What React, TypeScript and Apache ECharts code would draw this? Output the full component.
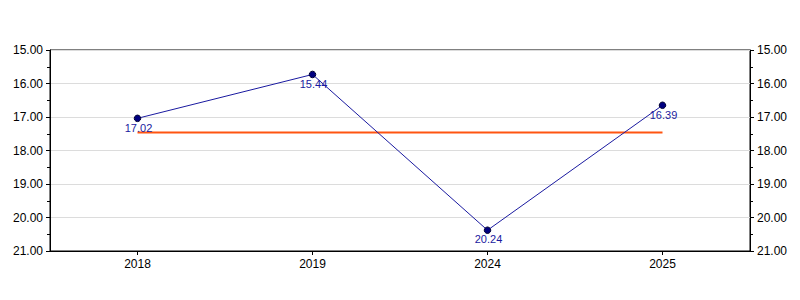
import React, { useEffect, useRef } from "react";
import * as echarts from "echarts";

const categories = ["2018", "2019", "2024", "2025"];
const values = [17.04, 15.73, 20.38, 16.65];
const pointLabels = ["17.02", "15.44", "20.24", "16.39"];
const meanValue = 17.46;
const meanLine = categories.map(() => meanValue);
const yTicks = { min: 15, max: 21, interval: 1 };

export default function App() {
  const ref = useRef<HTMLDivElement>(null);
  useEffect(() => {
    if (!ref.current) return;
    const chart = echarts.init(ref.current, null, { renderer: "svg" });
    const font = "'Liberation Sans', Arial, sans-serif";
    const yAxisBase = (position: "left" | "right") => ({
      type: "value" as const,
      position,
      inverse: true,
      min: yTicks.min,
      max: yTicks.max,
      interval: yTicks.interval,
      axisLine: { show: true, lineStyle: { color: "#000", width: 1 } },
      axisTick: { show: true, inside: false, length: 4, lineStyle: { color: "#000" } },
      minorTick: { show: true, splitNumber: 2, length: 3, lineStyle: { color: "#000" } },
      axisLabel: {
        show: true,
        color: "#000",
        fontFamily: font,
        fontSize: 12,
        margin: 7,
        formatter: (v: number) => v.toFixed(2),
      },
      splitLine: { show: position === "left", lineStyle: { color: "#dcdcdc", width: 1 } },
    });
    chart.setOption({
      animation: false,
      backgroundColor: "#fff",
      grid: {
        left: 50,
        right: 50,
        top: 50,
        bottom: 49,
        show: true,
        borderColor: "#000",
        borderWidth: 1,
        backgroundColor: "transparent",
      },
      xAxis: {
        type: "category",
        data: categories,
        boundaryGap: true,
        axisLine: { show: true, lineStyle: { color: "#000" } },
        axisTick: { show: true, alignWithLabel: true, length: 4, lineStyle: { color: "#000" } },
        axisLabel: { color: "#000", fontFamily: font, fontSize: 12, margin: 7 },
        splitLine: { show: false },
      },
      yAxis: [yAxisBase("left"), yAxisBase("right")],
      series: [
        {
          type: "line",
          data: values,
          yAxisIndex: 0,
          symbol: "circle",
          symbolSize: 6.5,
          lineStyle: { color: "#1a1aa0", width: 1 },
          itemStyle: { color: "#000080", borderColor: "#000033", borderWidth: 1 },
          label: {
            show: true,
            position: "bottom",
            distance: 0,
            offset: [1, 0],
            color: "#1a1aa0",
            fontFamily: font,
            fontSize: 11,
            formatter: (p: any) => pointLabels[p.dataIndex],
          },
          z: 3,
        },
        {
          type: "line",
          data: meanLine,
          yAxisIndex: 0,
          symbol: "none",
          lineStyle: { color: "#ff5511", width: 2 },
          z: 2,
          silent: true,
        },
      ],
    });
    return () => chart.dispose();
  }, []);
  return (
    <div
      ref={ref}
      style={{ position: "fixed", left: 0, top: 0, width: 800, height: 300 }}
    />
  );
}
